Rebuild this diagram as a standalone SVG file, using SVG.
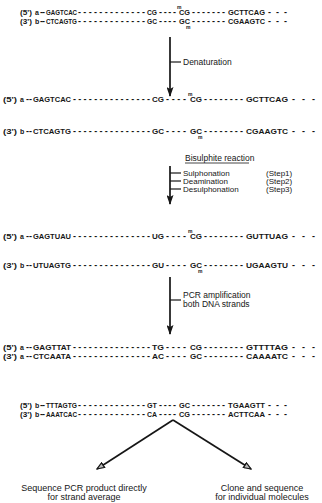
<svg xmlns="http://www.w3.org/2000/svg" width="322" height="503" viewBox="0 0 322 503">
<style>
  text{font-family:"Liberation Sans",Arial,sans-serif;fill:#161616}
  .s{font-size:7px;font-weight:bold}
  .d{font-size:9px;font-weight:bold}
  .m{font-size:5px;font-weight:bold}
  .l{font-size:8.5px}
  .k{font-size:8px}
  .ln{stroke:#161616;stroke-width:1.7;fill:none}
  .tk{stroke:#161616;stroke-width:1.2;fill:none}
  .bt{font-size:9px;text-anchor:middle}
</style>
<defs>
  <marker id="ah" viewBox="0 0 10 10" refX="9" refY="5" markerUnits="userSpaceOnUse" markerWidth="10" markerHeight="7" orient="auto" preserveAspectRatio="none">
    <path d="M0,0 L10,5 L0,10 L2,5 z" fill="#161616"/>
  </marker>
  <marker id="oh" viewBox="0 0 10 10" refX="9" refY="5" markerUnits="userSpaceOnUse" markerWidth="9" markerHeight="7" orient="auto" preserveAspectRatio="none">
    <path d="M1,1 L9,5 L1,9 z" fill="#bbb" stroke="#161616" stroke-width="1.6"/>
  </marker>
</defs>
<rect width="322" height="503" fill="#fff"/>

<!-- starting duplex -->
<g id="row1" transform="translate(0,15)">
  <text class="s" x="20" textLength="12" lengthAdjust="spacingAndGlyphs">(5')</text><text class="s" x="35">a</text>
  <text class="d" x="40" textLength="5" lengthAdjust="spacing">--</text>
  <text class="s" x="46" textLength="31" lengthAdjust="spacingAndGlyphs">GAGTCAC</text>
  <text class="d" x="78" textLength="67" lengthAdjust="spacing">-------------</text>
  <text class="s" x="147" textLength="10" lengthAdjust="spacingAndGlyphs">CG</text>
  <text class="d" x="159" textLength="17" lengthAdjust="spacing">----</text>
  <text class="m" x="177" y="-6">m</text>
  <text class="s" x="179" textLength="11" lengthAdjust="spacingAndGlyphs">CG</text>
  <text class="d" x="192" textLength="33" lengthAdjust="spacing">-------</text>
  <text class="s" x="228" textLength="37" lengthAdjust="spacingAndGlyphs">GCTTCAG</text>
  <text class="d" x="268" textLength="19" lengthAdjust="spacing">---</text>
</g>
<g id="row2" transform="translate(0,24)">
  <text class="s" x="20" textLength="12" lengthAdjust="spacingAndGlyphs">(3')</text><text class="s" x="35">b</text>
  <text class="d" x="40" textLength="5" lengthAdjust="spacing">--</text>
  <text class="s" x="46" textLength="31" lengthAdjust="spacingAndGlyphs">CTCAGTG</text>
  <text class="d" x="78" textLength="67" lengthAdjust="spacing">-------------</text>
  <text class="s" x="147" textLength="10" lengthAdjust="spacingAndGlyphs">GC</text>
  <text class="d" x="159" textLength="17" lengthAdjust="spacing">----</text>
  <text class="s" x="179" textLength="11" lengthAdjust="spacingAndGlyphs">GC</text>
  <text class="m" x="186" y="5">m</text>
  <text class="d" x="192" textLength="33" lengthAdjust="spacing">-------</text>
  <text class="s" x="228" textLength="37" lengthAdjust="spacingAndGlyphs">CGAAGTC</text>
  <text class="d" x="268" textLength="19" lengthAdjust="spacing">---</text>
</g>

<!-- single strands after denaturation -->
<g id="row3" transform="translate(0,102)">
  <text class="s" x="3" textLength="14" lengthAdjust="spacingAndGlyphs">(5')</text><text class="s" x="20">a</text>
  <text class="d" x="26" textLength="6" lengthAdjust="spacing">--</text>
  <text class="s" x="33" textLength="38" lengthAdjust="spacingAndGlyphs">GAGTCAC</text>
  <text class="d" x="73" textLength="77" lengthAdjust="spacing">---------------</text>
  <text class="s" x="152" textLength="12" lengthAdjust="spacingAndGlyphs">CG</text>
  <text class="d" x="166" textLength="20" lengthAdjust="spacing">----</text>
  <text class="m" x="188" y="-6">m</text>
  <text class="s" x="190" textLength="12" lengthAdjust="spacingAndGlyphs">CG</text>
  <text class="d" x="204" textLength="39" lengthAdjust="spacing">--------</text>
  <text class="s" x="246" textLength="42" lengthAdjust="spacingAndGlyphs">GCTTCAG</text>
  <text class="d" x="292" textLength="23" lengthAdjust="spacing">---</text>
</g>
<g id="row4" transform="translate(0,134)">
  <text class="s" x="3" textLength="14" lengthAdjust="spacingAndGlyphs">(3')</text><text class="s" x="20">b</text>
  <text class="d" x="26" textLength="6" lengthAdjust="spacing">--</text>
  <text class="s" x="33" textLength="38" lengthAdjust="spacingAndGlyphs">CTCAGTG</text>
  <text class="d" x="73" textLength="77" lengthAdjust="spacing">---------------</text>
  <text class="s" x="152" textLength="12" lengthAdjust="spacingAndGlyphs">GC</text>
  <text class="d" x="166" textLength="20" lengthAdjust="spacing">----</text>
  <text class="s" x="190" textLength="12" lengthAdjust="spacingAndGlyphs">GC</text>
  <text class="m" x="198" y="5">m</text>
  <text class="d" x="204" textLength="39" lengthAdjust="spacing">--------</text>
  <text class="s" x="246" textLength="42" lengthAdjust="spacingAndGlyphs">CGAAGTC</text>
  <text class="d" x="292" textLength="23" lengthAdjust="spacing">---</text>
</g>

<!-- after bisulphite treatment -->
<g id="row5" transform="translate(0,239)">
  <text class="s" x="3" textLength="14" lengthAdjust="spacingAndGlyphs">(5')</text><text class="s" x="20">a</text>
  <text class="d" x="26" textLength="6" lengthAdjust="spacing">--</text>
  <text class="s" x="33" textLength="38" lengthAdjust="spacingAndGlyphs">GAGTUAU</text>
  <text class="d" x="73" textLength="77" lengthAdjust="spacing">---------------</text>
  <text class="s" x="152" textLength="12" lengthAdjust="spacingAndGlyphs">UG</text>
  <text class="d" x="166" textLength="20" lengthAdjust="spacing">----</text>
  <text class="m" x="188" y="-6">m</text>
  <text class="s" x="190" textLength="12" lengthAdjust="spacingAndGlyphs">CG</text>
  <text class="d" x="204" textLength="39" lengthAdjust="spacing">--------</text>
  <text class="s" x="246" textLength="42" lengthAdjust="spacingAndGlyphs">GUTTUAG</text>
  <text class="d" x="292" textLength="23" lengthAdjust="spacing">---</text>
</g>
<g id="row6" transform="translate(0,268)">
  <text class="s" x="3" textLength="14" lengthAdjust="spacingAndGlyphs">(3')</text><text class="s" x="20">b</text>
  <text class="d" x="26" textLength="6" lengthAdjust="spacing">--</text>
  <text class="s" x="33" textLength="38" lengthAdjust="spacingAndGlyphs">UTUAGTG</text>
  <text class="d" x="73" textLength="77" lengthAdjust="spacing">---------------</text>
  <text class="s" x="152" textLength="12" lengthAdjust="spacingAndGlyphs">GU</text>
  <text class="d" x="166" textLength="20" lengthAdjust="spacing">----</text>
  <text class="s" x="190" textLength="12" lengthAdjust="spacingAndGlyphs">GC</text>
  <text class="m" x="198" y="5">m</text>
  <text class="d" x="204" textLength="39" lengthAdjust="spacing">--------</text>
  <text class="s" x="246" textLength="42" lengthAdjust="spacingAndGlyphs">UGAAGTU</text>
  <text class="d" x="292" textLength="23" lengthAdjust="spacing">---</text>
</g>

<!-- PCR products, strand a -->
<g id="row7" transform="translate(0,350)">
  <text class="s" x="3" textLength="14" lengthAdjust="spacingAndGlyphs">(5')</text><text class="s" x="20">a</text>
  <text class="d" x="26" textLength="6" lengthAdjust="spacing">--</text>
  <text class="s" x="33" textLength="38" lengthAdjust="spacingAndGlyphs">GAGTTAT</text>
  <text class="d" x="73" textLength="77" lengthAdjust="spacing">---------------</text>
  <text class="s" x="152" textLength="12" lengthAdjust="spacingAndGlyphs">TG</text>
  <text class="d" x="166" textLength="20" lengthAdjust="spacing">----</text>
  <text class="s" x="190" textLength="12" lengthAdjust="spacingAndGlyphs">CG</text>
  <text class="d" x="204" textLength="39" lengthAdjust="spacing">--------</text>
  <text class="s" x="246" textLength="42" lengthAdjust="spacingAndGlyphs">GTTTTAG</text>
  <text class="d" x="292" textLength="23" lengthAdjust="spacing">---</text>
</g>
<g id="row8" transform="translate(0,359)">
  <text class="s" x="3" textLength="14" lengthAdjust="spacingAndGlyphs">(3')</text><text class="s" x="20">a</text>
  <text class="d" x="26" textLength="6" lengthAdjust="spacing">--</text>
  <text class="s" x="33" textLength="38" lengthAdjust="spacingAndGlyphs">CTCAATA</text>
  <text class="d" x="73" textLength="77" lengthAdjust="spacing">---------------</text>
  <text class="s" x="152" textLength="12" lengthAdjust="spacingAndGlyphs">AC</text>
  <text class="d" x="166" textLength="20" lengthAdjust="spacing">----</text>
  <text class="s" x="190" textLength="12" lengthAdjust="spacingAndGlyphs">GC</text>
  <text class="d" x="204" textLength="39" lengthAdjust="spacing">--------</text>
  <text class="s" x="246" textLength="42" lengthAdjust="spacingAndGlyphs">CAAAATC</text>
  <text class="d" x="292" textLength="23" lengthAdjust="spacing">---</text>
</g>

<!-- PCR products, strand b -->
<g id="row9" transform="translate(0,408)">
  <text class="s" x="20" textLength="12" lengthAdjust="spacingAndGlyphs">(5')</text><text class="s" x="35">b</text>
  <text class="d" x="40" textLength="5" lengthAdjust="spacing">--</text>
  <text class="s" x="46" textLength="31" lengthAdjust="spacingAndGlyphs">TTTAGTG</text>
  <text class="d" x="78" textLength="67" lengthAdjust="spacing">-------------</text>
  <text class="s" x="147" textLength="10" lengthAdjust="spacingAndGlyphs">GT</text>
  <text class="d" x="159" textLength="17" lengthAdjust="spacing">----</text>
  <text class="s" x="179" textLength="11" lengthAdjust="spacingAndGlyphs">GC</text>
  <text class="d" x="192" textLength="33" lengthAdjust="spacing">-------</text>
  <text class="s" x="228" textLength="37" lengthAdjust="spacingAndGlyphs">TGAAGTT</text>
  <text class="d" x="268" textLength="19" lengthAdjust="spacing">---</text>
</g>
<g id="row10" transform="translate(0,417)">
  <text class="s" x="20" textLength="12" lengthAdjust="spacingAndGlyphs">(3')</text><text class="s" x="35">b</text>
  <text class="d" x="40" textLength="5" lengthAdjust="spacing">--</text>
  <text class="s" x="46" textLength="31" lengthAdjust="spacingAndGlyphs">AAATCAC</text>
  <text class="d" x="78" textLength="67" lengthAdjust="spacing">-------------</text>
  <text class="s" x="147" textLength="10" lengthAdjust="spacingAndGlyphs">CA</text>
  <text class="d" x="159" textLength="17" lengthAdjust="spacing">----</text>
  <text class="s" x="179" textLength="11" lengthAdjust="spacingAndGlyphs">CG</text>
  <text class="d" x="192" textLength="33" lengthAdjust="spacing">-------</text>
  <text class="s" x="228" textLength="37" lengthAdjust="spacingAndGlyphs">ACTTCAA</text>
  <text class="d" x="268" textLength="19" lengthAdjust="spacing">---</text>
</g>

<!-- step labels -->
<g id="denaturation"><text class="l" x="183" y="65">Denaturation</text></g>
<g id="bisulphite">
  <text class="l" x="185" y="161">Bisulphite reaction</text>
  <line x1="185" y1="163" x2="249" y2="163" stroke="#161616" stroke-width="0.8"/>
  <text class="k" x="183" y="176">Sulphonation</text><text class="k" x="266" y="176">(Step1)</text>
  <text class="k" x="183" y="184">Deamination</text><text class="k" x="266" y="184">(Step2)</text>
  <text class="k" x="183" y="192">Desulphonation</text><text class="k" x="266" y="192">(Step3)</text>
</g>
<g id="pcr">
  <text class="l" x="183" y="298">PCR amplification</text>
  <text class="l" x="183" y="307">both DNA strands</text>
</g>
<g id="direct">
  <text class="bt" x="84" y="491">Sequence PCR product directly</text>
  <text class="bt" x="84" y="500">for strand average</text>
</g>
<g id="clone">
  <text class="bt" x="262" y="491">Clone and sequence</text>
  <text class="bt" x="262" y="500">for individual molecules</text>
</g>

<!-- connectors -->
<g id="connectors">
  <line class="ln" x1="170" y1="37" x2="170" y2="96" marker-end="url(#ah)"/>
  <line class="tk" x1="170" y1="62" x2="181" y2="62"/>
  <line class="ln" x1="170" y1="166" x2="170" y2="204" marker-end="url(#ah)"/>
  <line class="tk" x1="170" y1="173" x2="181" y2="173"/>
  <line class="tk" x1="170" y1="181" x2="181" y2="181"/>
  <line class="tk" x1="170" y1="189" x2="181" y2="189"/>
  <line class="ln" x1="170" y1="277" x2="170" y2="334" marker-end="url(#ah)"/>
  <line class="tk" x1="170" y1="300" x2="181" y2="300"/>
  <line class="ln" x1="173" y1="420" x2="97" y2="469" marker-end="url(#oh)"/>
  <line class="ln" x1="173" y1="420" x2="251" y2="469" marker-end="url(#oh)"/>
</g>
</svg>
